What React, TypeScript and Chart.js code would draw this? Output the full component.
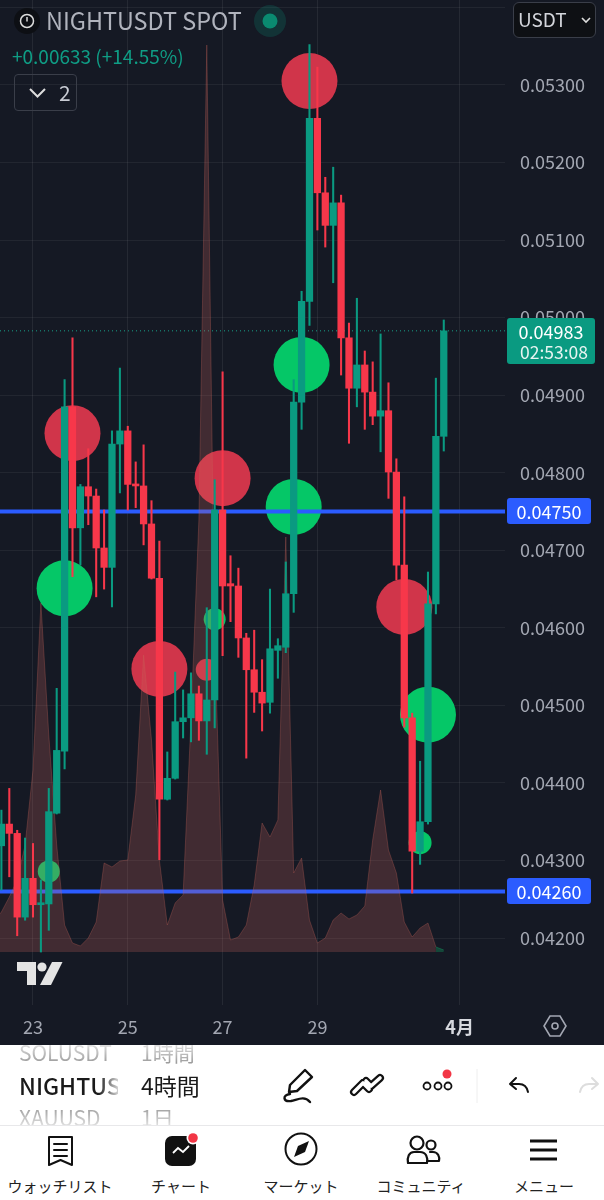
import { useEffect, useRef } from 'react'
import { Chart, registerables } from 'chart.js'

Chart.register(...registerables)

const FONT = '"Noto Sans CJK JP", "Noto Sans", sans-serif'
const BG = '#151924'
const UP = '#0a9a81'
const DOWN = '#f7374a'

const opens = [0.04319,0.04347,0.04335,0.04227,0.04277,0.04243,0.04244,0.04361,0.04441,0.04885,0.04729,0.04782,0.0477,0.04703,0.04678,0.04837,0.04854,0.04785,0.04783,0.04734,0.04664,0.04379,0.04406,0.04479,0.04484,0.04515,0.0448,0.04507,0.04752,0.04657,0.04654,0.04587,0.04546,0.04517,0.04504,0.04571,0.04575,0.04644,0.04891,0.05021,0.05257,0.05161,0.05119,0.05148,0.04974,0.04909,0.04939,0.04904,0.04873,0.0488,0.04801,0.04681,0.04484,0.04312,0.0435,0.04631,0.04847]
const closes = [0.04347,0.04335,0.04227,0.04277,0.04243,0.04244,0.04363,0.04442,0.04885,0.04729,0.04782,0.0477,0.04703,0.04678,0.04837,0.04854,0.04785,0.04783,0.04734,0.04664,0.04379,0.04406,0.04479,0.04484,0.04515,0.0448,0.04507,0.04752,0.04654,0.04654,0.04587,0.04546,0.04517,0.04503,0.04573,0.04577,0.04644,0.04891,0.05021,0.05257,0.05161,0.05119,0.05148,0.04974,0.04909,0.04939,0.04904,0.04873,0.0488,0.04801,0.04681,0.04484,0.04312,0.0435,0.04631,0.04847,0.04983]
const highs = [0.04365,0.04393,0.04339,0.04329,0.04322,0.04275,0.04393,0.04522,0.0492,0.04974,0.04785,0.04831,0.04779,0.04752,0.04854,0.04935,0.0486,0.04814,0.04836,0.04764,0.04712,0.0444,0.04543,0.0452,0.04542,0.04525,0.04626,0.04791,0.0493,0.04693,0.04677,0.04593,0.04597,0.04559,0.0465,0.04586,0.04685,0.0492,0.05034,0.05352,0.05323,0.05181,0.05194,0.05158,0.04993,0.05025,0.04957,0.04943,0.04979,0.04916,0.04818,0.04769,0.0449,0.04428,0.04672,0.04922,0.04997]
const lows = [0.04262,0.04279,0.04203,0.04223,0.04227,0.04182,0.0421,0.0436,0.04418,0.04666,0.04681,0.04733,0.0464,0.0465,0.04627,0.04774,0.04752,0.04755,0.04707,0.04663,0.04301,0.04378,0.04405,0.04458,0.04453,0.04455,0.04437,0.04471,0.04564,0.04608,0.04562,0.04432,0.04491,0.04467,0.0449,0.04535,0.04568,0.0462,0.04856,0.0499,0.05113,0.05091,0.05045,0.04926,0.04838,0.04885,0.04856,0.04862,0.04827,0.04767,0.04662,0.04472,0.04258,0.04295,0.04347,0.04618,0.04828]
const volumes = [40,55,72,107,182,349,217,107,27,9,6,14,30,89,85,91,92,157,297,212,92,27,49,57,232,432,907,312,52,12,15,27,67,129,115,132,415,79,94,32,9,14,32,39,33,37,46,112,162,102,79,30,15,24,29,5,2]
const volumeBeforeFirst = 30

const xTicks = [4, 16, 28, 40, 58]
const xTickLabels = ['23', '25', '27', '29', '4月']
const yTicks = [0.042,0.043,0.044,0.045,0.046,0.047,0.048,0.049,0.05,0.051,0.052,0.053,0.054]

// markers: slot, price, size
const redBig = [{ x: 9, y: 0.04851, r: 28 }, { x: 39, y: 0.05305, r: 28 }, { x: 28, y: 0.04793, r: 28 }, { x: 20, y: 0.04547, r: 28 }, { x: 51, y: 0.04627, r: 28 }, { x: 26, y: 0.04546, r: 11 }]
const greenBig = [{ x: 8, y: 0.04651, r: 28 }, { x: 38, y: 0.04939, r: 28 }, { x: 37, y: 0.04756, r: 28 }, { x: 54, y: 0.04488, r: 28 }, { x: 27, y: 0.04611, r: 11 }, { x: 6, y: 0.04286, r: 11 }, { x: 53, y: 0.04323, r: 11.5 }]

const levels = [0.0475, 0.0426]
const lastPrice = 0.04983

const xMin = -0.177
const xMax = 63.75
const txt = (s: any) => ({ position: 'absolute', fontFamily: FONT, whiteSpace: 'nowrap', lineHeight: 1, ...s })

function PriceChart() {
  const ref = useRef<HTMLCanvasElement | null>(null)
  useEffect(() => {
    const ctx = ref.current?.getContext('2d')
    if (!ctx) return
    const slots = closes.map((_, i) => i)
    const colors = slots.map((i) => (closes[i] >= opens[i] ? UP : DOWN))
    const volumePoints = [{ x: -1, y: volumeBeforeFirst }, ...slots.map((i) => ({ x: i, y: volumes[i] }))]
    const chart = new Chart(ctx, {
      type: 'bar',
      data: {
        datasets: [
          { type: 'bubble', data: redBig, backgroundColor: '#d0354a', borderWidth: 0, order: 7, xAxisID: 'x', yAxisID: 'y' },
          { type: 'bubble', data: greenBig, backgroundColor: '#05c767', borderWidth: 0, order: 7, xAxisID: 'x', yAxisID: 'y' },
          ...levels.map((v) => ({
            type: 'line', data: [{ x: xMin, y: v }, { x: xMax, y: v }], borderColor: '#2b5cff', borderWidth: 4,
            pointRadius: 0, order: 6, xAxisID: 'x', yAxisID: 'y',
          })),
          {
            type: 'line', data: [{ x: xMin, y: lastPrice }, { x: xMax, y: lastPrice }], borderColor: '#18a08a', borderWidth: 1,
            borderDash: [1, 3], pointRadius: 0, order: 6, xAxisID: 'x', yAxisID: 'y',
          },
          {
            type: 'line', data: volumePoints, yAxisID: 'y2', xAxisID: 'x',
            borderColor: 'rgba(199,99,90,0.3)', borderWidth: 1, backgroundColor: 'rgba(199,99,90,0.25)',
            fill: 'origin', pointRadius: 0, tension: 0, order: 5,
            segment: {
              backgroundColor: (c: any) => (c.p0DataIndex === volumePoints.length - 2 ? 'rgba(20,140,90,0.4)' : undefined),
              borderColor: (c: any) => (c.p0DataIndex === volumePoints.length - 2 ? 'rgba(20,140,90,0.5)' : undefined),
            },
          },
          {
            type: 'bar', data: slots.map((i) => ({ x: i, y: [lows[i], highs[i]] })), backgroundColor: colors,
            barThickness: 1.4, grouped: false, order: 2, xAxisID: 'x', yAxisID: 'y',
          },
          {
            type: 'bar', data: slots.map((i) => ({ x: i, y: [opens[i], closes[i]] })), backgroundColor: colors,
            barThickness: 6.6, grouped: false, minBarLength: 2, order: 1, xAxisID: 'x', yAxisID: 'y',
          },
        ] as any,
      },
      options: {
        responsive: false,
        animation: false,
        layout: { padding: 0, autoPadding: false },
        plugins: { legend: { display: false }, tooltip: { enabled: false } },
        scales: {
          x: {
            type: 'linear', min: xMin, max: xMax, offset: false,
            grid: { color: 'rgba(255,255,255,0.07)', drawTicks: false, offset: false },
            border: { display: false },
            afterBuildTicks: (s: any) => { s.ticks = xTicks.map((value) => ({ value })) },
            afterFit: (s: any) => { s.height = 40; s.paddingLeft = 0; s.paddingRight = 0 },
            ticks: {
              autoSkip: false, maxRotation: 0, padding: 11,
              color: (c: any) => (c.index === 4 ? '#d6d8de' : '#a3a7b2'),
              font: (c: any) => ({ family: FONT, size: 18, weight: c.index === 4 ? 'bold' : 'normal' }),
              callback: (_v: any, i: number) => xTickLabels[i],
            },
          },
          y: {
            type: 'linear', position: 'right', min: 0.041137, max: 0.054096,
            grid: { color: 'rgba(255,255,255,0.06)', drawTicks: false },
            border: { display: false },
            afterBuildTicks: (s: any) => { s.ticks = yTicks.map((value) => ({ value })) },
            afterFit: (s: any) => { s.width = 99; s.paddingTop = 0; s.paddingBottom = 0 },
            ticks: {
              autoSkip: false, padding: 15, color: '#a3a7b2', font: { family: FONT, size: 18 },
              // the top tick sits behind the currency box
              callback: (v: any) => (Number(v) >= 0.054 ? '' : Number(v).toFixed(5)),
            },
          },
          y2: { type: 'linear', display: false, min: -53, max: 952 },
        },
      } as any,
    })
    return () => chart.destroy()
  }, [])
  return <canvas ref={ref} width={604} height={1045} style={{ position: 'absolute', left: 0, top: 0, width: 604, height: 1045 }} />
}

function PriceTag({ top, text }: { top: number; text: string }) {
  return (
    <div style={txt({ left: 507, top, width: 84, height: 26, background: '#2b5cff', color: '#fff', borderRadius: 3, fontSize: 18, textAlign: 'center', lineHeight: '26px' }) as any}>{text}</div>
  )
}

const ink = { fill: 'none', stroke: '#111', strokeWidth: 2.4, strokeLinecap: 'round', strokeLinejoin: 'round' } as any

function Overlay() {
  const navLabels: [string, number][] = [['ウォッチリスト', 60], ['チャート', 181], ['マーケット', 301], ['コミュニティ', 421], ['メニュー', 544]]
  return (
    <>
      {/* header */}
      <svg style={{ position: 'absolute', left: 0, top: 0 }} width={604} height={44}>
        <circle cx={27} cy={21} r={13} fill="#0d0f14" />
        <circle cx={27} cy={21} r={6.5} fill="none" stroke="#ddd" strokeWidth={1.5} />
        <path d="M27 17v4.5" stroke="#ddd" strokeWidth={1.5} />
        <circle cx={270} cy={21} r={16} fill="#0a9a81" opacity={0.2} />
        <circle cx={270} cy={21} r={7.5} fill="#0a8a70" />
      </svg>
      <div style={txt({ left: 46, top: 8, fontSize: 24, color: '#b0b3bd', transform: 'scaleX(0.975)', transformOrigin: 'left' }) as any}>NIGHTUSDT SPOT</div>
      <div style={txt({ left: 12, top: 46, fontSize: 19, color: '#0f9d85' }) as any}>+0.00633 (+14.55%)</div>
      <div style={{ position: 'absolute', left: 14, top: 74, width: 61, height: 35, border: '1.5px solid #3a3e49', borderRadius: 4 }} />
      <svg style={{ position: 'absolute', left: 28, top: 86 }} width={20} height={14}>
        <path d="M2 3l7.5 7.5L17 3" fill="none" stroke="#ddd" strokeWidth={2} />
      </svg>
      <div style={txt({ left: 59, top: 82, fontSize: 21, color: '#c9ccd4' }) as any}>2</div>
      <div style={{ position: 'absolute', left: 513, top: 2, width: 81, height: 34, background: '#0e1014', border: '1.5px solid #3a3e49', borderRadius: 6 }} />
      <div style={txt({ left: 518, top: 9, fontSize: 19, color: '#d4d6dc' }) as any}>USDT</div>
      <svg style={{ position: 'absolute', left: 580, top: 16 }} width={12} height={8}>
        <path d="M2 2l4 4 4-4" fill="none" stroke="#ddd" strokeWidth={1.6} />
      </svg>

      {/* price tags */}
      <PriceTag top={498} text="0.04750" />
      <PriceTag top={878} text="0.04260" />
      <div style={{ position: 'absolute', left: 507, top: 318, width: 88, height: 46, background: '#0a9a81', borderRadius: 3 }} />
      <div style={txt({ left: 507, top: 322, width: 88, textAlign: 'center', fontSize: 18, color: '#fff' }) as any}>0.04983</div>
      <div style={txt({ left: 510, top: 343, width: 88, textAlign: 'center', fontSize: 17.5, color: '#e6f4f1' }) as any}>02:53:08</div>

      {/* logo + settings */}
      <svg style={{ position: 'absolute', left: 17, top: 962 }} width={46} height={24}>
        <path d="M0 0h19v23h-9V9H0z" fill="#e4e4e4" />
        <circle cx={25} cy={5} r={4.6} fill="#e4e4e4" />
        <path d="M35 0h10.5L34 23H23z" fill="#e4e4e4" />
      </svg>
      <svg style={{ position: 'absolute', left: 543, top: 1014 }} width={24} height={24}>
        <path d="M7 2h10l6 10-6 10H7L1 12z" fill="none" stroke="#a3a7b2" strokeWidth={1.6} />
        <circle cx={12} cy={12} r={3} fill="none" stroke="#a3a7b2" strokeWidth={1.6} />
      </svg>

      {/* white footer */}
      <div style={{ position: 'absolute', left: 0, top: 1045, width: 604, height: 155, background: '#fff', overflow: 'hidden' }}>
        <div style={{ position: 'absolute', left: 0, top: 0, width: 230, height: 80, overflow: 'hidden', WebkitMaskImage: 'linear-gradient(to bottom, rgba(0,0,0,.25), #000 35%, #000 65%, rgba(0,0,0,.25))' } as any}>
          <div style={txt({ left: 19, top: -3, fontSize: 21, color: '#777', width: 99, overflow: 'hidden' }) as any}>SOLUSDT</div>
          <div style={txt({ left: 141, top: -3, fontSize: 21, color: '#777' }) as any}>1時間</div>
          <div style={txt({ left: 19, top: 29, fontSize: 23, fontWeight: 500, color: '#1a1a1a', width: 99, overflow: 'hidden', WebkitMaskImage: 'linear-gradient(to right, #000 80%, rgba(0,0,0,.2))' }) as any}>NIGHTUSDT</div>
          <div style={txt({ left: 141, top: 29, fontSize: 23, color: '#1a1a1a' }) as any}>4時間</div>
          <div style={txt({ left: 19, top: 62, fontSize: 21, color: '#777', width: 99, overflow: 'hidden' }) as any}>XAUUSD</div>
          <div style={txt({ left: 141, top: 62, fontSize: 21, color: '#777' }) as any}>1日</div>
        </div>
        <div style={{ position: 'absolute', left: 0, top: 80, width: 604, height: 1, background: '#e8e8ea' }} />
      </div>
      <svg style={{ position: 'absolute', left: 0, top: 1045 }} width={604} height={155}>
        {/* pencil */}
        <path d="M289 47l1-7 15-15 7 7-15 14z" {...ink} />
        <path d="M290 49C282 50 283 57 291 56 297 55 304 50 310 57" {...ink} />
        {/* chevrons */}
        <path d="M354 47l9-9 6 6M366 36l5 5 9-8" fill="none" stroke="#111" strokeWidth={8} strokeLinecap="round" strokeLinejoin="round" />
        <path d="M354 47l9-9 6 6M366 36l5 5 9-8" fill="none" stroke="#fff" strokeWidth={3.6} strokeLinecap="round" strokeLinejoin="round" />
        {/* dots */}
        <circle cx={427} cy={41} r={3.5} {...ink} strokeWidth={1.8} />
        <circle cx={438} cy={41} r={3.5} {...ink} strokeWidth={1.8} />
        <circle cx={448} cy={41} r={3.5} {...ink} strokeWidth={1.8} />
        <circle cx={447} cy={29} r={4.5} fill="#f23645" />
        <path d="M477 24v34" stroke="#eee" strokeWidth={1} />
        {/* undo / redo */}
        <path d="M516 33l-6 6 6 5 M510 39h9c5 0 8 3 9 8" {...ink} strokeWidth={2} />
        <path d="M592 33l6 6-6 5 M598 39h-9c-5 0-8 3-9 8" {...ink} stroke="#ddd" strokeWidth={2} />
        {/* nav: watchlist */}
        <path d="M49 92h23v28l-11.500-5-11.500 5z" {...ink} strokeWidth={2} />
        <path d="M54 99h13M54 105h13M54 111h13" {...ink} strokeWidth={2} />
        {/* nav: chart */}
        <rect x={165} y={91} width={31} height={30} rx={7} fill="#111" />
        <path d="M173 108l5-5 5 4 6-6" fill="none" stroke="#fff" strokeWidth={1.8} />
        <circle cx={193} cy={93} r={6.5} fill="#fff" />
        <circle cx={193} cy={93} r={4.8} fill="#f23645" />
        {/* nav: compass */}
        <circle cx={301} cy={104} r={15.500} {...ink} strokeWidth={2} />
        <path d="M309 96l-11 5-4 11 11-5z" fill="#111" />
        {/* nav: people */}
        <circle cx={417} cy={98} r={6.5} {...ink} strokeWidth={2.2} />
        <circle cx={431} cy={100} r={4.5} {...ink} strokeWidth={2.2} />
        <path d="M414 107h6c6 0 8 5 7 11h-19c-1-6 1-11 6-11z M430 107h3c5 0 7 5 6 9h-11" {...ink} strokeWidth={2.2} />
        {/* nav: menu */}
        <path d="M530 96h27M530 105h27M530 114h27" stroke="#111" strokeWidth={3} />
      </svg>
      {navLabels.map(([label, cx]) => (
        <div key={label} style={txt({ left: cx - 60, width: 120, top: 1178, textAlign: 'center', fontSize: 15, color: '#222' }) as any}>{label}</div>
      ))}
    </>
  )
}

export default function App() {
  return (
    <div style={{ position: 'relative', width: 604, height: 1200, overflow: 'hidden', background: BG }}>
      <style>{`html,body{margin:0;padding:0}`}</style>
      <PriceChart />
      <Overlay />
    </div>
  )
}
